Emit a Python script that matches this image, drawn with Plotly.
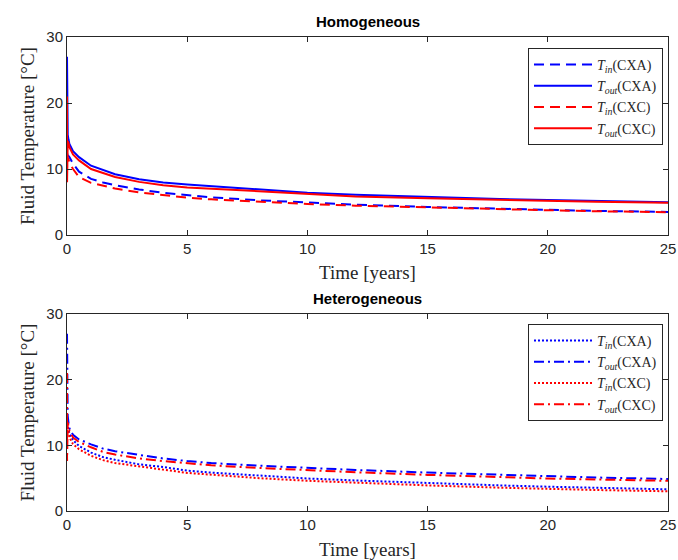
import plotly.graph_objects as go
from plotly.subplots import make_subplots

# Time grid (years)
t = [0, 0.002, 0.006, 0.012, 0.03, 0.06, 0.1, 0.25, 0.5, 1, 1.5, 2, 3, 4, 5, 6, 8, 10, 12, 15, 18, 20, 22, 25]

# Homogeneous
hom_tin_cxa  = [12.4, 12.4, 12.3, 12.2, 12.1, 12.0, 11.8, 10.8, 9.6, 8.5, 7.95, 7.55, 6.9, 6.4, 6.0, 5.7, 5.25, 4.9, 4.6, 4.25, 3.95, 3.8, 3.65, 3.5]
hom_tout_cxa = [27, 21, 17, 16, 15.2, 14.5, 13.8, 12.7, 11.8, 10.5, 9.8, 9.2, 8.45, 7.95, 7.65, 7.4, 6.9, 6.4, 6.1, 5.75, 5.45, 5.3, 5.15, 4.95]
hom_tin_cxc  = [11.4, 10.2, 12.0, 10.8, 11.6, 11.5, 11.0, 10.0, 8.8, 7.9, 7.45, 7.05, 6.45, 6.0, 5.65, 5.4, 5.0, 4.7, 4.45, 4.15, 3.9, 3.75, 3.6, 3.45]
hom_tout_cxc = [21, 8, 13.5, 12.2, 14.2, 14.0, 13.3, 12.2, 11.3, 10.0, 9.35, 8.8, 8.05, 7.55, 7.2, 7.0, 6.55, 6.15, 5.85, 5.55, 5.3, 5.2, 5.05, 4.9]

# Heterogeneous
het_tin_cxa  = [14.0, 13.8, 13.5, 13.2, 12.8, 12.4, 11.8, 10.8, 9.9, 8.9, 8.2, 7.8, 7.1, 6.7, 6.15, 5.85, 5.35, 4.95, 4.65, 4.25, 3.9, 3.7, 3.5, 3.3]
het_tout_cxa = [27, 21, 17, 15.5, 14.5, 13.5, 12.6, 11.6, 10.9, 10.15, 9.5, 9.1, 8.5, 8.0, 7.6, 7.3, 6.9, 6.55, 6.25, 5.85, 5.5, 5.3, 5.1, 4.87]
het_tin_cxc  = [13.0, 11.5, 13.2, 12.5, 12.4, 12.0, 11.2, 10.2, 9.4, 8.4, 7.75, 7.3, 6.75, 6.3, 5.8, 5.5, 5.0, 4.6, 4.3, 3.9, 3.55, 3.35, 3.2, 3.0]
het_tout_cxc = [21, 7.6, 14.0, 13.0, 13.5, 13.0, 12.2, 11.2, 10.5, 9.7, 9.0, 8.6, 8.0, 7.6, 7.25, 6.95, 6.55, 6.2, 5.9, 5.5, 5.15, 4.95, 4.8, 4.6]

x_ticks = [0, 5, 10, 15, 20, 25]
y_ticks = [0, 10, 20, 30]

BLUE = "#0000ff"
RED = "#ff0000"
AX = "#262626"
DASH = "10px,6px"
DOT = "2px,2px"
DASHDOT = "10px,4px,2px,4px"

def lab(sub, name):
    return "<i>T</i><sub><i>%s</i></sub>(%s)" % (sub, name)

fig = make_subplots(rows=2, cols=1, vertical_spacing=0.0)

top = [
    (hom_tin_cxa, BLUE, DASH, lab("in", "CXA")),
    (hom_tout_cxa, BLUE, "solid", lab("out", "CXA")),
    (hom_tin_cxc, RED, DASH, lab("in", "CXC")),
    (hom_tout_cxc, RED, "solid", lab("out", "CXC")),
]
bot = [
    (het_tin_cxa, BLUE, DOT, lab("in", "CXA")),
    (het_tout_cxa, BLUE, DASHDOT, lab("out", "CXA")),
    (het_tin_cxc, RED, DOT, lab("in", "CXC")),
    (het_tout_cxc, RED, DASHDOT, lab("out", "CXC")),
]
for y, c, d, n in top:
    fig.add_trace(go.Scatter(x=t, y=y, mode="lines", name=n,
                             line=dict(color=c, width=2, dash=d), legend="legend"), row=1, col=1)
for y, c, d, n in bot:
    fig.add_trace(go.Scatter(x=t, y=y, mode="lines", name=n,
                             line=dict(color=c, width=2, dash=d), legend="legend2"), row=2, col=1)

L, R, T, B = 67, 10, 37, 49
W, H = 678, 560
ph = H - T - B
pw = W - L - R
top_lo = (H - B - 235) / ph
bot_hi = (H - B - 314) / ph

axis_common = dict(showline=True, linecolor=AX, linewidth=1, mirror="ticks", automargin=False,
                   ticks="inside", ticklen=5, tickcolor=AX, showgrid=False, zeroline=False,
                   tickfont=dict(family="Liberation Sans, Arial", size=15, color=AX))
title_font = dict(family="Liberation Serif, DejaVu Serif", size=19, color=AX)

fig.update_xaxes(range=[0, 25], tickvals=x_ticks, **axis_common)
fig.update_yaxes(range=[0, 30], tickvals=y_ticks, **axis_common)
fig.update_layout(yaxis=dict(domain=[top_lo, 1.0]), yaxis2=dict(domain=[0.0, bot_hi]))

# axis titles
for yc in (272, 549):
    fig.add_annotation(text="Time [years]", x=0.5, xref="paper", y=(H - B - yc) / ph, yref="paper",
                       xanchor="center", yanchor="middle", showarrow=False, font=title_font)
for yc in ((37 + 235) / 2, (314 + 511) / 2):
    fig.add_annotation(text="Fluid Temperature [°C]", x=(27 - L) / pw, xref="paper",
                       y=(H - B - yc) / ph, yref="paper", textangle=-90,
                       xanchor="center", yanchor="middle", showarrow=False, font=title_font)

leg_common = dict(xref="paper", yref="paper", xanchor="right", yanchor="top",
                  bgcolor="white", bordercolor=AX, borderwidth=1,
                  font=dict(family="Liberation Serif, DejaVu Serif", size=14, color=AX),
                  itemwidth=58, tracegroupgap=0)
fig.update_layout(
    legend=dict(x=(663 - L) / pw, y=(H - B - 48) / ph, **leg_common),
    legend2=dict(x=(663 - L) / pw, y=(H - B - 324) / ph, **leg_common),
)

tfont = dict(family="Liberation Sans, Arial", size=15, color="black")
fig.add_annotation(text="<b>Homogeneous</b>", x=0.5, xref="paper", y=1.0, yref="paper",
                   yanchor="bottom", yshift=5, showarrow=False, font=tfont)
fig.add_annotation(text="<b>Heterogeneous</b>", x=0.5, xref="paper", y=bot_hi, yref="paper",
                   yanchor="bottom", yshift=5, showarrow=False, font=tfont)

fig.update_layout(width=W, height=H, margin=dict(l=L, r=R, t=T, b=B),
                  paper_bgcolor="white", plot_bgcolor="white", showlegend=True)

fig.write_html("out.html")
